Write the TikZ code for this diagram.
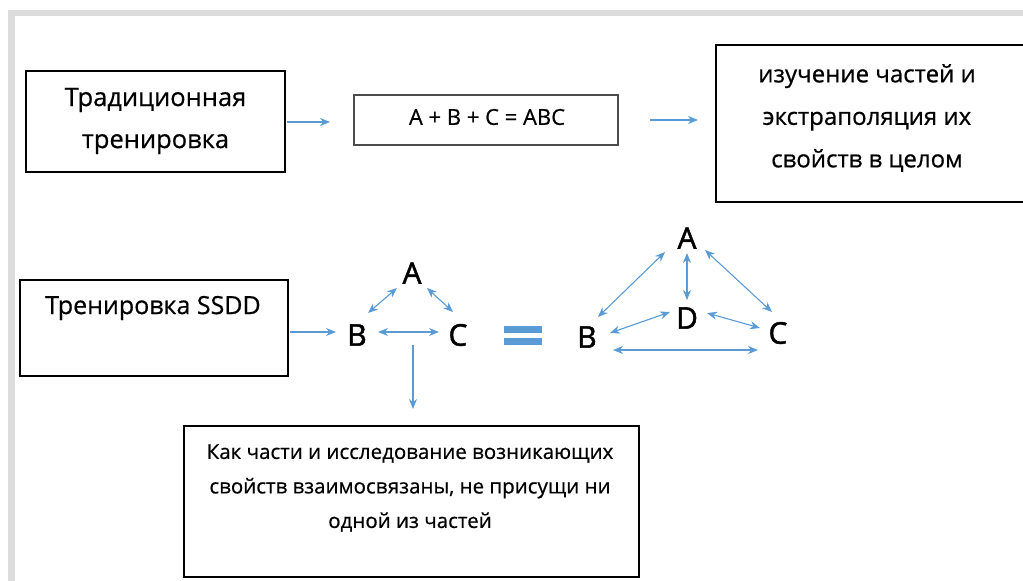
\documentclass[tikz,border=0pt]{standalone}
\usepackage{fontspec}
\setmainfont[FakeBold=0.6]{Open Sans}
\newfontfamily\letterfont[FakeBold=1.6]{Open Sans}
\usetikzlibrary{arrows.meta}
\definecolor{ablue}{HTML}{5B9BD5}
\definecolor{frame}{HTML}{DCDCDC}
\begin{document}
\begin{tikzpicture}[x=1pt,y=-1pt,
  box/.style={draw=black,line width=1.3pt,inner sep=0pt,align=center},
  conn/.style={draw=ablue,line width=1.1pt,-{Stealth[length=10pt,width=8pt]}},
  bconn/.style={draw=ablue,line width=1.1pt,{Stealth[length=10pt,width=8pt]}-{Stealth[length=10pt,width=8pt]}},
  letter/.style={font=\letterfont\fontsize{30}{30}\selectfont,inner sep=0pt}]
\useasboundingbox (0,0) rectangle (1023,581);
\begin{scope}
\clip (0,0) rectangle (1023,581);
\fill[frame] (8,10) rectangle (1030,16);
\fill[frame] (8,10) rectangle (15,590);
% boxes
\draw[box] (26,71) rectangle (285,172);
\node[inner sep=0pt,align=center,font=\fontsize{25.5}{42}\selectfont] (t1) at (155.5,121) {Традиционная\\тренировка};
\coordinate (t1r) at (287,122);
\draw[draw=black!70,line width=1.2pt] (354,95) rectangle (618,145);
\node[inner sep=0pt,font=\fontsize{22}{22}\selectfont] (t2) at (487,117) {A + B + C = ABC};
\coordinate (t2l) at (330,122);
\coordinate (t2r) at (650,120);
\draw[box] (716,45) rectangle (1030,202);
\node[inner sep=0pt,align=center,font=\fontsize{24}{42.5}\selectfont] (t3) at (867,118) {изучение частей и\\экстраполяция их\\свойств в целом};
\coordinate (t3l) at (698,120);
\draw[box] (20,280) rectangle (288,376);
\node[inner sep=0pt,font=\fontsize{25}{25}\selectfont] (t4) at (153,308) {Тренировка SSDD};
\coordinate (t4r) at (290,332);
\draw[box] (184,426) rectangle (639,577);
\node[inner sep=0pt,align=center,font=\fontsize{20.5}{34.5}\selectfont] (t5) at (410,488) {Как части и исследование возникающих\\свойств взаимосвязаны, не присущи ни\\одной из частей};
\end{scope}
\draw[conn] (t1r) -- (t2l);
\draw[conn] (t2r) -- (t3l);
% left graph
\node[letter] (A1) at (412,273) {A};
\node[letter] (B1) at (357,335) {B};
\node[letter] (C1) at (458,335) {C};
\coordinate (b1in) at (336,332);
\draw[conn] (t4r) -- (b1in);
\draw[bconn] (368,313) -- (397,288);
\draw[bconn] (427,288) -- (453,312);
\draw[bconn] (378,332) -- (439,332);
\coordinate (d0) at (413,345);
\coordinate (d1) at (413,409);
\draw[conn] (d0) -- (d1);
% equals
\fill[ablue] (504,326) rectangle (542,333);
\fill[ablue] (504,337.5) rectangle (542,344.5);
% right graph
\node[letter] (A2) at (687,238) {A};
\node[letter] (D2) at (687,318) {D};
\node[letter] (B2) at (587,337) {B};
\node[letter] (C2) at (778,333) {C};
\draw[bconn] (598,317) -- (665,252);
\draw[bconn] (687,253) -- (687,300);
\draw[bconn] (705,250) -- (772,312);
\draw[bconn] (610,333) -- (670,312);
\draw[bconn] (707,313) -- (760,328);
\draw[bconn] (613,350) -- (758,350);
\end{tikzpicture}
\end{document}
